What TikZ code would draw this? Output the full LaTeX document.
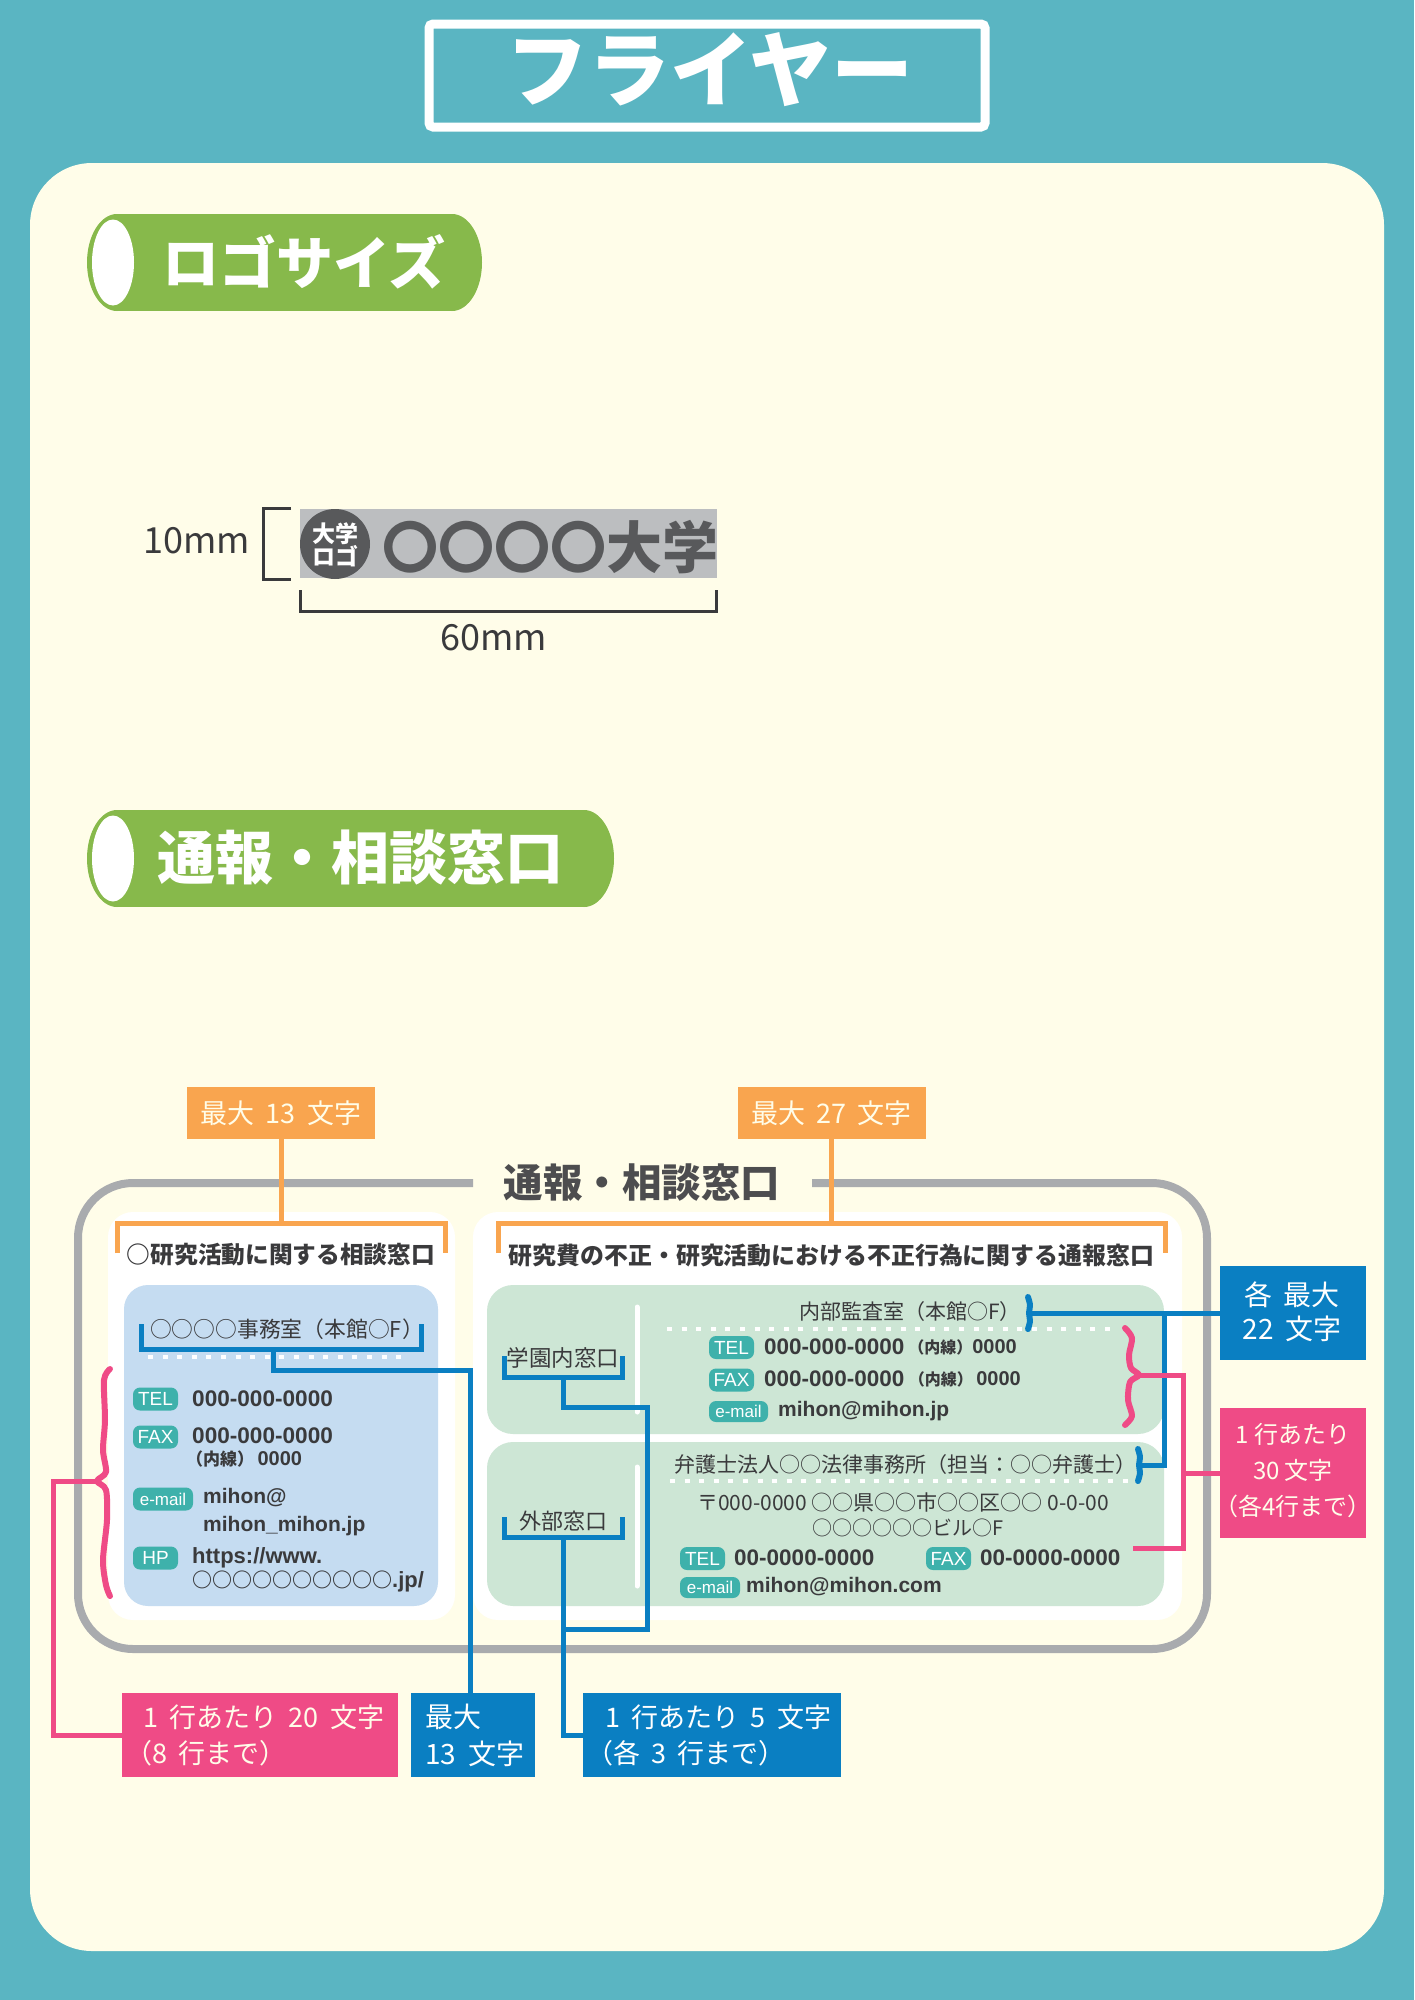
\documentclass[tikz,border=0pt]{standalone}
\usepackage{fontspec}
\setmainfont{Liberation Sans}
\newfontfamily\cjk{Noto Sans CJK JP}
\newcommand\fsz[1]{\fontsize{#1}{#1}\selectfont}
\newcommand\gp{\hspace{.42em}}
\definecolor{bgteal}{HTML}{5AB5C2}
\definecolor{cream}{HTML}{FFFDE9}
\definecolor{leaf}{HTML}{87B94B}
\definecolor{orng}{HTML}{F9A54F}
\definecolor{frame}{HTML}{A9ABAE}
\definecolor{skyp}{HTML}{C5DCF1}
\definecolor{mint}{HTML}{CDE6D5}
\definecolor{bluel}{HTML}{0A7FC2}
\definecolor{pnk}{HTML}{EF4B86}
\definecolor{badgec}{HTML}{3EB1AB}
\definecolor{ink}{HTML}{3A3A3C}
\definecolor{headink}{HTML}{4D4D4F}
\definecolor{logogrey}{HTML}{BCBEC0}
\definecolor{logoink}{HTML}{58595B}
\tikzset{
  x=1pt,y=-1pt,
  lbl/.style={inner sep=0pt,text=ink},
  jp/.style={lbl,font=\cjk\fsz{#1}},
  jpb/.style={lbl,font=\cjk\bfseries\fsz{#1}},
  num/.style={lbl,font=\bfseries\fsz{#1}},
  flat/.style={inner sep=0pt,draw=none},
  orangebox/.style={flat,fill=orng,minimum width=188pt,minimum height=52pt,text=cream,font=\cjk\fsz{27}},
  pinkbox/.style={flat,fill=pnk,text=cream},
  bluebox/.style={flat,fill=bluel,text=white},
  badge/.style={flat,fill=badgec,rounded corners=7pt,minimum height=23pt,text=white,font=\fsz{19}},
  blueline/.style={draw=bluel,line width=5pt,line cap=butt,line join=miter},
  pinkline/.style={draw=pnk,line width=5pt,line join=miter},
  orangeline/.style={draw=orng,line width=5pt,line join=miter},
  wavy/.style={line width=6pt,line cap=round,line join=round},
  dotrow/.style={draw=white,line width=4pt,dash pattern=on 5pt off 9.6pt},
  pillshape/.style={fill=leaf},
}
\begin{document}
\begin{tikzpicture}
\useasboundingbox (0,0) rectangle (1414,2000);
\fill[bgteal] (0,0) rectangle (1414,2000);
\fill[cream,rounded corners=62pt] (30,163) rectangle (1384,1951);
% title
\node[flat,draw=white,line width=9pt,rounded corners=4pt,minimum width=556pt,minimum height=103pt] (titleframe) at (707,75.5) {};
\node[lbl,text=white,font=\cjk\bfseries\fsz{82}] (title) at (710,70) {フライヤー};
% pills
\fill[pillshape] (117,262.5) ellipse[x radius=30pt,y radius=48.5pt];
\fill[pillshape] (452,262.5) ellipse[x radius=30pt,y radius=48.5pt];
\fill[pillshape] (117,214) rectangle (452,311);
\fill[white] (113,262.5) ellipse[x radius=21pt,y radius=43pt];
\node[lbl,text=white,font=\cjk\bfseries\fsz{57}] (pill1) at (304,262) {ロゴサイズ};
\fill[pillshape] (117,858.5) ellipse[x radius=30pt,y radius=48.5pt];
\fill[pillshape] (584,858.5) ellipse[x radius=30pt,y radius=48.5pt];
\fill[pillshape] (117,810) rectangle (584,907);
\fill[white] (113,858.5) ellipse[x radius=21pt,y radius=43pt];
\node[lbl,text=white,font=\cjk\bfseries\fsz{58}] (pill2) at (360,858) {通報・相談窓口};
% logo
\node[flat,fill=logogrey,minimum width=417pt,minimum height=69pt] (logo) at (508.5,543.5) {};
\node[flat,fill=logoink,circle,minimum size=70pt] (logoc) at (335,544) {};
\node[lbl,text=white,font=\cjk\bfseries\fsz{23},align=center] (logoct) at (335,545) {\fontsize{23}{27}\selectfont 大学\\ロゴ};
\node[lbl,text=logoink,font=\cjk\bfseries\fsz{56}] (logot) at (550,547) {〇〇〇〇大学};
\coordinate (lbT) at (291,508);
\coordinate (lbB) at (291,579);
\draw[ink,line width=3pt] (lbT) -- (263,508) -- (263,579) -- (lbB);
\coordinate (lbL) at (300,590);
\coordinate (lbR) at (716,590);
\draw[ink,line width=3pt] (lbL) -- (300,611) -- (716,611) -- (lbR);
\node[jp=36] (mm10) at (197,541) {10mm};
\node[jp=36] (mm60) at (494,638) {60mm};
% grey frame
\coordinate (frL) at (473,1183);
\coordinate (frR) at (812,1183);
\draw[frame,line width=8pt,rounded corners=55pt] (frL) -- (78,1183) -- (78,1649) -- (1207,1649) -- (1207,1183) -- (frR);
\node[lbl,text=headink,font=\cjk\bfseries\fsz{39.5}] (mainh) at (642,1183) {通報・相談窓口};
% white panels
\fill[white,rounded corners=25pt] (108,1212) rectangle (455,1620);
\fill[white,rounded corners=25pt] (473,1212) rectangle (1182,1620);
% coloured panels
\fill[skyp,rounded corners=24pt] (124,1285) rectangle (438,1606);
\fill[mint,rounded corners=26pt] (487,1285) rectangle (1164,1434);
\fill[mint,rounded corners=26pt] (487,1442) rectangle (1164,1606);
\draw[white,line width=5pt,line cap=round] (637,1307) -- (637,1412);
\draw[white,line width=5pt,line cap=round] (637,1467) -- (637,1586);
\draw[dotrow] (148,1357) -- (405,1357);
\draw[dotrow] (667,1329) -- (1115,1329);
\draw[dotrow] (670,1481) -- (1133,1481);
% orange
\node[orangebox] (oA) at (281,1113) {最大\gp{}13\gp{}文字};
\node[orangebox] (oB) at (831.5,1113) {最大\gp{}27\gp{}文字};
\coordinate (oAj) at (281,1223);
\coordinate (oBj) at (831.5,1223);
\draw[orangeline] (oA.south) -- (oAj);
\draw[orangeline] (oB.south) -- (oBj);
\draw[orangeline] (117,1253) -- (117,1223) -- (445,1223) -- (445,1253);
\draw[orangeline] (498,1253) -- (498,1223) -- (1165,1223) -- (1165,1253);
% heads
\node[jpb=23.7] (hA) at (281,1255) {○研究活動に関する相談窓口};
\node[jpb=23.9] (hB) at (831.5,1255) {研究費の不正・研究活動における不正行為に関する通報窓口};
% left panel text
\node[jp=21.8] (oname) at (287,1329) {○○○○事務室（本館○F）};
\node[badge,minimum width=45pt] (tA) at (155.5,1399) {TEL};
\node[num=22.6,anchor=west] (tAn) at (192,1399) {000-000-0000};
\node[badge,minimum width=45pt] (fA) at (155.5,1437) {FAX};
\node[num=22.6,anchor=west] (fAn) at (192,1436) {000-000-0000};
\node[num=20,anchor=west] (fAx) at (186,1459) {{\cjk\fsz{17}（内線）}\,0000};
\node[badge,minimum width=60pt,font=\fsz{17}] (eA) at (163,1499) {e-mail};
\node[num=21,anchor=west] (eAn) at (203,1498) {mihon@};
\node[num=21,anchor=west] (eAm) at (203,1526) {mihon\_mihon.jp};
\node[badge,minimum width=45pt] (hpA) at (155.5,1558) {HP};
\node[num=22,anchor=west] (hpAn) at (192,1558) {https://www.};
\node[num=22,anchor=west,font=\bfseries\fsz{22}] (hpAm) at (192,1581) {{\cjk\fsz{20}○○○○○○○○○○}.jp/};
% right panel 1
\node[jp=22.5] (gkA) at (563,1358) {学園内窓口};
\node[jp=21] (inA) at (910,1312) {内部監査室（本館○F）};
\node[badge,minimum width=45pt] (tB) at (731.5,1347.5) {TEL};
\node[num=22.5,anchor=west] (tBn) at (764,1347) {000-000-0000};
\node[num=20,anchor=east] (tBx) at (1017,1347) {{\cjk\fsz{16}（内線）}0000};
\node[badge,minimum width=45pt] (fB) at (731.5,1380) {FAX};
\node[num=22.5,anchor=west] (fBn) at (764,1379) {000-000-0000};
\node[num=20,anchor=east] (fBx) at (1021,1379) {{\cjk\fsz{16}（内線）}\,0000};
\node[badge,minimum width=59pt,minimum height=21pt,font=\fsz{17}] (eB) at (738.5,1411.5) {e-mail};
\node[num=21,anchor=west] (eBn) at (778,1411) {mihon@mihon.jp};
% right panel 2
\node[jp=22] (gkB) at (563,1521) {外部窓口};
\node[jp=21] (inB) at (905,1465) {弁護士法人○○法律事務所（担当：○○弁護士）};
\node[jp=21,anchor=west] (adA) at (697,1502) {〒000-0000 ○○県○○市○○区○○ 0-0-00};
\node[jp=20] (adB) at (908,1528) {○○○○○○ビル○F};
\node[badge,minimum width=45pt] (tC) at (702.5,1558.5) {TEL};
\node[num=22.5,anchor=west] (tCn) at (734,1558) {00-0000-0000};
\node[badge,minimum width=45pt] (fC) at (948.5,1558.5) {FAX};
\node[num=22.5,anchor=west] (fCn) at (980,1558) {00-0000-0000};
\node[badge,minimum width=60pt,minimum height=21pt,font=\fsz{17}] (eC) at (710,1587.5) {e-mail};
\node[num=21,anchor=west] (eCn) at (746,1587) {mihon@mihon.com};
% label boxes
\node[pinkbox,minimum width=276pt,minimum height=84pt] (pA) at (260,1735) {};
\node[lbl,text=cream,anchor=west,align=left,font=\cjk\fontsize{27}{36}\selectfont] (pAt) at (125,1735) {\hspace*{18pt}1\gp{}行あたり\gp{}20\gp{}文字\\（8\gp{}行まで）};
\node[bluebox,minimum width=124pt,minimum height=84pt] (bA) at (473,1735) {};
\node[lbl,text=white,anchor=west,align=left,font=\cjk\fontsize{28}{37}\selectfont] (bAt) at (425,1735) {最大\\13\gp{}文字};
\node[bluebox,minimum width=258pt,minimum height=84pt] (bB) at (712,1735) {};
\node[lbl,text=white,anchor=west,align=left,font=\cjk\fontsize{27}{36}\selectfont] (bBt) at (586,1735) {\hspace*{19pt}1\gp{}行あたり\gp{}5\gp{}文字\\（各\gp{}3\gp{}行まで）};
\node[bluebox,minimum width=146pt,minimum height=94pt] (bC) at (1293,1313) {};
\node[lbl,text=white,align=center,font=\cjk\fontsize{28}{34}\selectfont] (bCt) at (1292,1312) {各\gp{}最大\\22\gp{}文字};
\node[pinkbox,minimum width=146pt,minimum height=130pt] (pB) at (1293,1473) {};
\node[lbl,text=cream,align=center,font=\cjk\fontsize{24}{36}\selectfont] (pBt) at (1293,1471) {1 行あたり\\30 文字\\（各4行まで）};
% blue brackets
\coordinate (brA) at (273,1349);
\coordinate (brAe) at (470,1370);
\draw[blueline] (141,1324) -- (141,1349) -- (421,1349) -- (421,1324);
\draw[blueline] (brA) |- (brAe) -- (bA.north -| brAe);
\coordinate (brB) at (563,1377);
\coordinate (brC) at (563,1537);
\coordinate (brBe) at (647,1407);
\coordinate (brCe) at (647,1629);
\coordinate (brCj) at (563,1629);
\draw[blueline] (504,1356) -- (504,1377) -- (622,1377) -- (622,1356);
\draw[blueline] (504,1517) -- (504,1537) -- (622,1537) -- (622,1517);
\draw[blueline] (brB) |- (brBe) -- (brCe) -- (brCj);
\draw[blueline] (brC) |- (bB.west);
\coordinate (waveA) at (1031,1313);
\coordinate (waveB) at (1140,1465);
\coordinate (jnA) at (1164,1313);
\draw[blueline] (waveA) -- (bC.west);
\draw[blueline] (jnA) |- (waveB);
\draw[bluel,wavy] plot[smooth] coordinates {(1028,1297) (1030,1305) (1029,1313) (1030,1321) (1028,1329)};
\draw[bluel,wavy] plot[smooth] coordinates {(1138,1449) (1140,1457) (1139,1465) (1140,1473) (1138,1481)};
% pink braces
\draw[pnk,wavy] plot[smooth] coordinates {(110,1369) (104,1380) (105,1420) (103,1450) (106,1472) (97,1481) (106,1490) (107,1520) (103,1560) (106,1585) (110,1596)};
\coordinate (brcA) at (97,1481);
\coordinate (pAcA) at (53,1481);
\draw[pinkline] (brcA) -- (pAcA) |- (pA.west);
\draw[pnk,wavy] plot[smooth] coordinates {(1125,1328) (1132,1338) (1129,1355) (1131,1368) (1139,1375) (1130,1382) (1128,1400) (1132,1416) (1125,1425)};
\coordinate (brcB) at (1137,1375);
\coordinate (pBv) at (1183,1375);
\coordinate (pBe) at (1133,1548);
\draw[pinkline] (brcB) -- (pBv) -- (pBv |- pBe) -- (pBe);
\draw[pinkline] (pBv |- pB.west) -- (pB.west);
\end{tikzpicture}
\end{document}
